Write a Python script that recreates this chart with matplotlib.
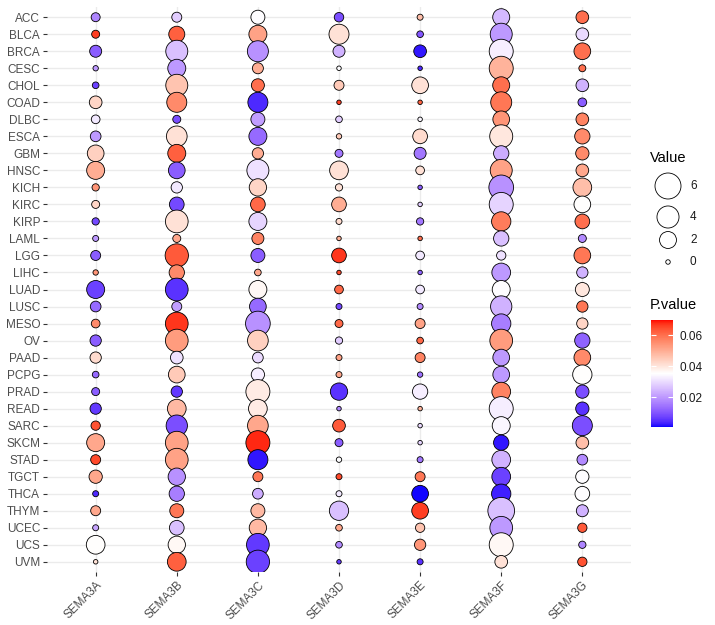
import numpy as np
import matplotlib
matplotlib.use("Agg")
import matplotlib.pyplot as plt
from matplotlib.colors import ListedColormap, TwoSlopeNorm

plt.rcParams["font.family"] = ["Liberation Sans", "DejaVu Sans"]

# --- data ---
cancers = ["ACC", "BLCA", "BRCA", "CESC", "CHOL", "COAD", "DLBC", "ESCA", "GBM", "HNSC",
           "KICH", "KIRC", "KIRP", "LAML", "LGG", "LIHC", "LUAD", "LUSC", "MESO", "OV",
           "PAAD", "PCPG", "PRAD", "READ", "SARC", "SKCM", "STAD", "TGCT", "THCA", "THYM",
           "UCEC", "UCS", "UVM"]
genes = ["SEMA3A", "SEMA3B", "SEMA3C", "SEMA3D", "SEMA3E", "SEMA3F", "SEMA3G"]

value_3a = [0.26, 0.16, 0.73, 0.01, 0.06, 0.87, 0.23, 0.50, 1.93, 2.36, 0.10, 0.16, 0.10, 0.03, 0.39, 0.01, 2.36,
            0.50, 0.23, 0.60, 0.60, 0.06, 0.16, 0.60, 0.30, 2.36, 0.39, 1.00, 0.03, 0.39, 0.03, 2.62, 0.00]
value_3b = [0.39, 1.72, 3.97, 2.36, 3.97, 3.12, 0.16, 3.40, 2.36, 1.93, 0.60, 1.35, 4.30, 0.16, 4.58, 1.51, 4.30,
            0.39, 4.30, 4.30, 0.87, 1.93, 0.60, 2.62, 3.66, 4.30, 4.30, 2.13, 1.51, 1.17, 1.35, 2.13, 2.62]
value_3c = [1.17, 2.36, 3.53, 0.55, 0.94, 3.12, 1.17, 2.36, 0.60, 3.97, 2.13, 1.35, 2.36, 0.73, 1.17, 0.06, 2.36,
            1.93, 5.29, 3.40, 0.50, 1.00, 4.93, 2.62, 3.40, 4.93, 3.12, 0.39, 0.50, 1.17, 2.13, 4.30, 4.58]
value_3d = [0.32, 3.12, 0.73, 0.00, 0.39, 0.00, 0.06, 0.01, 0.16, 2.62, 0.10, 1.35, 0.03, 0.00, 1.35, 0.00, 0.23,
            0.03, 0.16, 0.10, 0.03, 0.03, 2.13, 0.00, 0.87, 0.16, 0.01, 0.03, 0.03, 2.84, 0.06, 0.06, 0.00]
value_3e = [0.03, 0.06, 0.87, 0.00, 1.93, 0.00, 0.00, 1.35, 0.73, 0.23, 0.00, 0.00, 0.10, 0.00, 0.23, 0.00, 0.23,
            0.03, 0.39, 0.06, 0.39, 0.01, 1.51, 0.00, 0.00, 0.00, 0.03, 0.39, 1.93, 1.93, 0.30, 0.60, 0.03]
value_3f = [2.03, 3.97, 4.93, 4.93, 2.03, 3.53, 1.93, 4.44, 1.51, 3.97, 5.29, 4.93, 2.84, 1.51, 0.30, 2.62, 2.36,
            3.66, 2.84, 4.30, 1.93, 1.93, 2.62, 4.93, 2.36, 1.51, 2.62, 2.62, 2.84, 6.39, 4.30, 4.93, 0.87]
value_3g = [0.87, 0.87, 1.93, 0.08, 0.87, 0.23, 0.87, 1.51, 1.00, 0.87, 2.62, 1.93, 1.35, 0.16, 1.93, 0.60, 1.17,
            0.60, 0.60, 1.51, 1.93, 2.84, 1.00, 1.00, 3.12, 0.87, 0.50, 1.00, 1.35, 0.73, 0.30, 0.10, 0.30]

pval_3a = [0.017, 0.066, 0.011, 0.020, 0.007, 0.043, 0.032, 0.020, 0.044, 0.050, 0.054, 0.043, 0.008, 0.020, 0.011,
           0.054, 0.007, 0.013, 0.056, 0.011, 0.042, 0.013, 0.011, 0.006, 0.064, 0.051, 0.065, 0.051, 0.004, 0.051,
           0.022, 0.036, 0.041]
pval_3b = [0.028, 0.062, 0.026, 0.020, 0.046, 0.056, 0.009, 0.041, 0.062, 0.011, 0.032, 0.008, 0.041, 0.051, 0.063,
           0.056, 0.005, 0.021, 0.067, 0.053, 0.031, 0.045, 0.006, 0.048, 0.009, 0.052, 0.052, 0.019, 0.016, 0.059,
           0.026, 0.037, 0.062]
pval_3c = [0.035, 0.052, 0.019, 0.050, 0.060, 0.004, 0.021, 0.013, 0.050, 0.031, 0.043, 0.061, 0.029, 0.057, 0.011,
           0.051, 0.037, 0.013, 0.019, 0.044, 0.030, 0.033, 0.039, 0.039, 0.051, 0.068, 0.002, 0.059, 0.023, 0.048,
           0.048, 0.006, 0.007]
pval_3d = [0.009, 0.041, 0.024, 0.035, 0.045, 0.066, 0.028, 0.045, 0.015, 0.041, 0.041, 0.050, 0.042, 0.050, 0.067,
           0.065, 0.061, 0.008, 0.061, 0.028, 0.052, 0.051, 0.005, 0.017, 0.063, 0.011, 0.035, 0.065, 0.032, 0.026,
           0.051, 0.018, 0.006]
pval_3e = [0.047, 0.010, 0.002, 0.004, 0.041, 0.062, 0.034, 0.042, 0.015, 0.041, 0.011, 0.028, 0.015, 0.060, 0.032,
           0.012, 0.032, 0.018, 0.052, 0.061, 0.057, 0.014, 0.033, 0.049, 0.030, 0.029, 0.015, 0.059, 0.001, 0.066,
           0.046, 0.054, 0.005]
pval_3f = [0.025, 0.020, 0.033, 0.049, 0.060, 0.059, 0.054, 0.040, 0.023, 0.052, 0.019, 0.029, 0.058, 0.026, 0.031,
           0.020, 0.035, 0.024, 0.016, 0.053, 0.020, 0.020, 0.057, 0.033, 0.034, 0.002, 0.024, 0.007, 0.003, 0.026,
           0.020, 0.037, 0.041]
pval_3g = [0.060, 0.030, 0.060, 0.060, 0.024, 0.011, 0.057, 0.056, 0.056, 0.051, 0.047, 0.036, 0.060, 0.018, 0.059,
           0.024, 0.040, 0.059, 0.043, 0.012, 0.056, 0.036, 0.009, 0.005, 0.009, 0.047, 0.018, 0.035, 0.035, 0.024,
           0.063, 0.017, 0.064]

values = [value_3a, value_3b, value_3c, value_3d, value_3e, value_3f, value_3g]
pvals = [pval_3a, pval_3b, pval_3c, pval_3d, pval_3e, pval_3f, pval_3g]

size_legend = [6, 4, 2, 0]
cbar_ticks = [0.02, 0.04, 0.06]


# --- blue-white-red gradient interpolated in Lab (like ggplot) ---
M = np.array([[0.4124, 0.3576, 0.1805], [0.2126, 0.7152, 0.0722], [0.0193, 0.1192, 0.9505]])
WHITE = np.array([0.95047, 1.0, 1.08883])


def to_lab(rgb):
    rgb = np.asarray(rgb, float)
    lin = np.where(rgb <= 0.04045, rgb / 12.92, ((rgb + 0.055) / 1.055) ** 2.4)
    t = (lin @ M.T) / WHITE
    f = np.where(t > (6 / 29) ** 3, np.cbrt(t), t / (3 * (6 / 29) ** 2) + 4 / 29)
    return np.array([116 * f[1] - 16, 500 * (f[0] - f[1]), 200 * (f[1] - f[2])])


def from_lab(lab):
    fy = (lab[:, 0] + 16) / 116
    f = np.stack([fy + lab[:, 1] / 500, fy, fy - lab[:, 2] / 200], -1)
    d = 6 / 29
    t = np.where(f > d, f ** 3, 3 * d * d * (f - 4 / 29))
    lin = np.clip((t * WHITE) @ np.linalg.inv(M).T, 0, 1)
    rgb = np.where(lin <= 0.0031308, 12.92 * lin, 1.055 * lin ** (1 / 2.4) - 0.055)
    return np.clip(rgb, 0, 1)


def lab_ramp(c1, c2, n):
    a, b = to_lab(c1), to_lab(c2)
    w = np.linspace(0, 1, n)[:, None]
    return from_lab(a + (b - a) * w)


cols = np.vstack([lab_ramp([0, 0, 1], [1, 1, 1], 128), lab_ramp([1, 1, 1], [1, 0, 0], 128)])
cmap = ListedColormap(cols)
norm = TwoSlopeNorm(vmin=0.0006, vcenter=0.0355, vmax=0.0697)


def dot_area(v):
    d_px = 4.5 + 8.78 * np.sqrt(np.asarray(v, float))
    return (d_px * 0.72) ** 2


# --- figure ---
W, H = 715, 625
fig = plt.figure(figsize=(W / 100, H / 100), dpi=100)
ax = fig.add_axes([47 / W, 1 - 572 / H, 584 / W, 565 / H])

for gi, g in enumerate(genes):
    sc = ax.scatter([gi] * len(cancers), range(len(cancers)), s=dot_area(values[gi]),
                    c=pvals[gi], cmap=cmap, norm=norm, edgecolors="black", linewidths=0.6, zorder=3)

ax.set_xlim(-0.6, len(genes) - 0.4)
ax.set_ylim(len(cancers) - 0.4, -0.6)
ax.set_xticks(range(len(genes)))
ax.set_xticklabels(genes, rotation=45, ha="right", va="top", rotation_mode="anchor")
ax.set_yticks(range(len(cancers)))
ax.set_yticklabels(cancers)
ax.tick_params(axis="both", length=3, width=0.8, color="#333333", labelcolor="#4D4D4D",
               labelsize=8.5, pad=2)
ax.grid(True, color="#EBEBEB", linewidth=1.0, zorder=0)
ax.set_axisbelow(True)
for sp in ax.spines.values():
    sp.set_visible(False)

# --- legends (drawn in pixel coordinates) ---
lax = fig.add_axes([0, 0, 1, 1], zorder=-1)
lax.set_xlim(0, W)
lax.set_ylim(H, 0)
lax.axis("off")

lax.text(650, 158, "Value", fontsize=10.5, va="center", ha="left", color="black")
key_y = [186, 217, 240, 262]
lax.scatter([668] * len(size_legend), key_y, s=dot_area(size_legend), facecolors="white",
            edgecolors="black", linewidths=0.6)
for v, y in zip(size_legend, key_y):
    lax.text(690, y, str(v), fontsize=8.5, va="center", ha="left", color="#1A1A1A")

lax.text(650, 305, "P.value", fontsize=10.5, va="center", ha="left", color="black")
cax = fig.add_axes([651 / W, 1 - 427 / H, 22 / W, 107 / H])
cb = fig.colorbar(sc, cax=cax)
cb.outline.set_visible(False)
cb.set_ticks(cbar_ticks)
cb.set_ticklabels([f"{t:.2f}" for t in cbar_ticks])
cax.yaxis.set_ticks_position("both")
cax.tick_params(direction="in", length=3.5, width=0.8, color="white", labelsize=8.5,
                labelcolor="#1A1A1A", pad=5, labelleft=False, labelright=True)

fig.savefig("out.png", dpi=100)
